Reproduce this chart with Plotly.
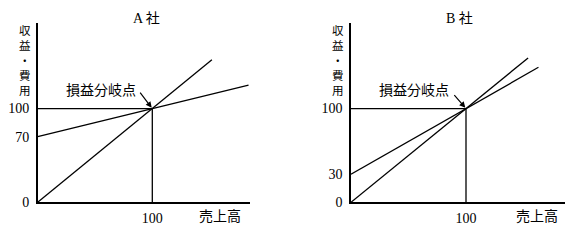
import plotly.graph_objects as go

# ---- data ----
panels = ["A 社", "B 社"]
breakeven = [100, 100]
fixed_cost = [70, 30]
revenue_x = [[0, 152], [0, 154]]
revenue_y = [[0, 152], [0, 154]]
cost_x = [[0, 184], [0, 163]]
cost_y = [[70, 125], [30, 144]]
y_ticks = [[0, 70, 100], [0, 30, 100]]
x_ticks = [100]
x_ranges = [[0, 185], [0, 186]]
y_range = [0, 191]
ylabel = "収<br>益<br>・<br>費<br>用"
xlabel = "売上高"
be_label = "損益分岐点"

W, H = 576, 250
fig = go.Figure()
lw = 1.3
line_style = dict(color="black", width=lw)

axis_x0 = [37.7, 351]  # pixel positions of y-axes
scale_x = [1.146, 1.15]
ydom = [(250 - 209) / H, (250 - 24) / H]


def ann(**kw):
    kw.setdefault("showarrow", False)
    kw.setdefault("xanchor", "center")
    kw.setdefault("yanchor", "middle")
    fig.add_annotation(**kw)


for i in range(2):
    xa = "x" if i == 0 else "x2"
    ya = "y" if i == 0 else "y2"
    be = breakeven[i]
    fig.add_trace(go.Scatter(x=revenue_x[i], y=revenue_y[i], mode="lines",
                             line=line_style, xaxis=xa, yaxis=ya, showlegend=False, hoverinfo="skip"))
    fig.add_trace(go.Scatter(x=cost_x[i], y=cost_y[i], mode="lines",
                             line=line_style, xaxis=xa, yaxis=ya, showlegend=False, hoverinfo="skip"))
    fig.add_trace(go.Scatter(x=[0, be, be], y=[be, be, 0], mode="lines",
                             line=line_style, xaxis=xa, yaxis=ya, showlegend=False, hoverinfo="skip"))

    x0 = axis_x0[i]
    x1 = x0 + scale_x[i] * x_ranges[i][1]
    xkey = "xaxis" if i == 0 else "xaxis2"
    ykey = "yaxis" if i == 0 else "yaxis2"
    fig.update_layout(**{
        xkey: dict(domain=[x0 / W, x1 / W], range=x_ranges[i], anchor=ya,
                   showgrid=False, zeroline=False, showline=True, linecolor="black",
                   linewidth=1.5, tickmode="array", tickvals=x_ticks,
                   ticktext=[str(v) for v in x_ticks], ticks="", ticklen=0,
                   ticklabelstandoff=2,
                   tickfont=dict(family="Liberation Serif", size=14, color="black")),
        ykey: dict(domain=ydom, range=y_range, anchor=xa,
                   showgrid=False, zeroline=False, showline=True, linecolor="black",
                   linewidth=1.5, tickmode="array", tickvals=y_ticks[i],
                   ticktext=[str(v) for v in y_ticks[i]], ticks="", ticklen=0,
                   ticklabelstandoff=4,
                   tickfont=dict(family="Liberation Serif", size=14, color="black")),
    })

    # title
    title_cx = [146, 459][i]
    ann(text=panels[i], xref="paper", yref="paper",
        x=title_cx / W, y=(250 - 19) / H,
        font=dict(family="Liberation Serif, Noto Sans CJK JP", size=14, color="black"))
    # vertical y label
    ann(text=ylabel, xref="paper", yref="paper",
        x=(x0 - 13) / W, y=(250 - 62) / H,
        font=dict(family="Noto Sans CJK JP", size=11.5, color="black"))
    # x label
    ann(text=xlabel, xref=xa, yref="paper",
        x=[159, 162][i], y=(250 - 222) / H,
        font=dict(family="Noto Sans CJK JP", size=14, color="black"))
    # break-even label
    ann(text=be_label, xref=xa, yref=ya, x=55, y=121,
        font=dict(family="Noto Sans CJK JP", size=14, color="black"))
    fig.add_annotation(text="", xref=xa, yref=ya, x=be, y=be,
                       axref=xa, ayref=ya, ax=[88.4, 88.7][i], ay=[118.6, 116][i],
                       showarrow=True, arrowhead=2, arrowsize=1, arrowwidth=1.2,
                       arrowcolor="black", standoff=1)

fig.update_layout(width=W, height=H, margin=dict(l=0, r=0, t=0, b=0),
                  paper_bgcolor="white", plot_bgcolor="white")
fig.write_html("out.html")
